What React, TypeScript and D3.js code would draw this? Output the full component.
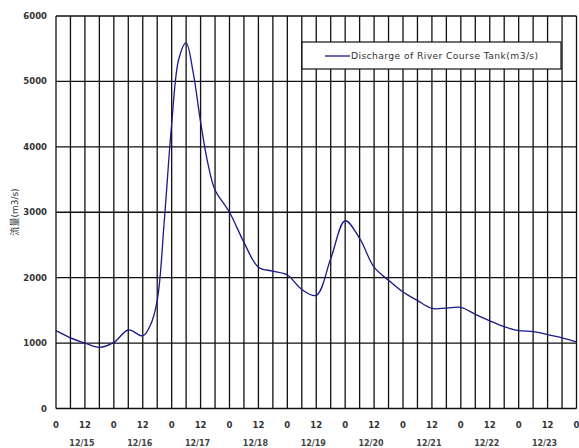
import React from "react";
import * as d3 from "d3";

const hours = [0, 6, 12, 18, 24, 30, 36, 39, 42, 45, 48, 51, 54, 57, 60, 63, 66, 72, 78, 84, 90, 96, 102, 108, 114, 120, 126, 132, 138, 144, 150, 156, 162, 168, 174, 180, 186, 192, 198, 204, 210, 216];
const discharge = [1190, 1080, 1000, 935, 1010, 1200, 1110, 1260, 1650, 2900, 4350, 5350, 5590, 5120, 4380, 3750, 3340, 3000, 2540, 2160, 2100, 2040, 1820, 1730, 2290, 2870, 2600, 2160, 1960, 1780, 1650, 1530, 1535, 1545, 1440, 1340, 1250, 1190, 1175, 1130, 1080, 1020];
const yTicks = [0, 1000, 2000, 3000, 4000, 5000, 6000];
const dayLabels = ["12/15", "12/16", "12/17", "12/18", "12/19", "12/20", "12/21", "12/22", "12/23"];
const seriesName = "Discharge of River Course Tank(m3/s)";
const yTitle = "流量(m3/s)";

export default function App() {
  const W = 579, H = 448;
  const left = 56, right = 576.5, top = 16, bottom = 408.5;
  const x = d3.scaleLinear().domain([0, 216]).range([left, right]);
  const y = d3.scaleLinear().domain([0, 6000]).range([bottom, top]);
  const vLines = d3.range(0, 217, 6);
  const xLabels = d3.range(0, 217, 12);
  const line = d3
    .line<number>()
    .x((_, i) => x(hours[i]))
    .y((d) => y(d))
    .curve(d3.curveCatmullRom.alpha(0.5));
  const font = "'DejaVu Sans', 'Noto Sans CJK JP', sans-serif";
  return (
    <svg width={W} height={H} style={{ position: "absolute", left: 0, top: 0 }} fontFamily={font}>
      <rect x={0} y={0} width={W} height={H} fill="#fff" />
      {vLines.map((h) => (
        <line key={"v" + h} x1={x(h)} x2={x(h)} y1={top} y2={bottom} stroke="#111" strokeWidth={1.3} />
      ))}
      {yTicks.map((t) => (
        <line key={"h" + t} x1={left} x2={right} y1={y(t)} y2={y(t)} stroke="#111" strokeWidth={1.3} />
      ))}
      {yTicks.map((t) => (
        <text key={"yl" + t} x={47} y={y(t) + 3} textAnchor="end" fontSize={8.5} fontWeight="bold" fill="#333">
          {t}
        </text>
      ))}
      {xLabels.map((h) => (
        <text key={"xl" + h} x={x(h)} y={428} textAnchor="middle" fontSize={8.5} fontWeight="bold" fill="#333">
          {h % 24}
        </text>
      ))}
      {dayLabels.map((d, i) => (
        <text key={d} x={x(i * 24 + 12) - 3} y={446} textAnchor="middle" fontSize={8} fontWeight="bold" fill="#444">
          {d}
        </text>
      ))}
      <text transform={`translate(18,212) rotate(-90)`} textAnchor="middle" fontSize={9} fill="#333">
        {yTitle}
      </text>
      <path d={line(discharge) || ""} fill="none" stroke="#1a1a8a" strokeWidth={1.3} />
      <rect x={302} y={42} width={259} height={27} fill="#fff" stroke="#111" strokeWidth={1.2} />
      <line x1={325} x2={350} y1={56} y2={56} stroke="#1a1a8a" strokeWidth={1.3} />
      <text x={351} y={59} fontSize={9.2} letterSpacing={0.4} fill="#333">
        {seriesName}
      </text>
    </svg>
  );
}
